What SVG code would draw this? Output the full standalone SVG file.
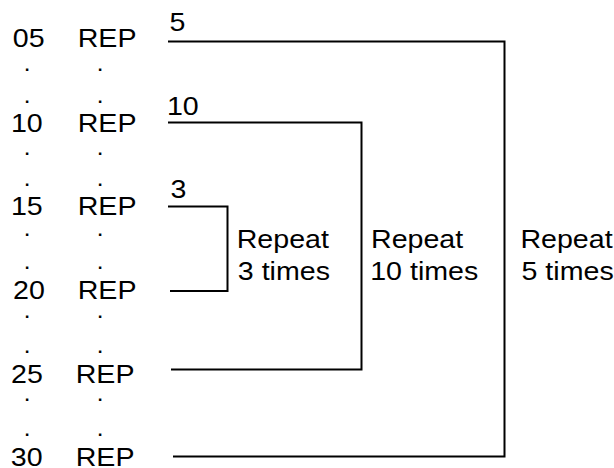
<svg xmlns="http://www.w3.org/2000/svg" width="614" height="468" viewBox="0 0 614 468">
<style>
text{font-family:"Liberation Sans",Arial,sans-serif;font-size:26px;fill:#000}
.d{text-anchor:middle;font-size:17px;font-weight:bold}
.c{fill:none;stroke:#000;stroke-width:2}
</style>
<rect width="614" height="468" fill="#fff"/>
<g id="numbers">
<text x="12.8" y="47.3" textLength="31.8" lengthAdjust="spacingAndGlyphs">05</text>
<text x="10.9" y="131.7" textLength="31.8" lengthAdjust="spacingAndGlyphs">10</text>
<text x="10.9" y="215" textLength="31.8" lengthAdjust="spacingAndGlyphs">15</text>
<text x="13.1" y="299.3" textLength="31.8" lengthAdjust="spacingAndGlyphs">20</text>
<text x="11.1" y="383" textLength="31.8" lengthAdjust="spacingAndGlyphs">25</text>
<text x="10.8" y="465.5" textLength="31.8" lengthAdjust="spacingAndGlyphs">30</text>
</g>
<g id="reps">
<text x="77.7" y="47.3" textLength="58.8" lengthAdjust="spacingAndGlyphs">REP</text>
<text x="77.7" y="131.7" textLength="58.8" lengthAdjust="spacingAndGlyphs">REP</text>
<text x="77.7" y="215" textLength="58.8" lengthAdjust="spacingAndGlyphs">REP</text>
<text x="77.7" y="299.3" textLength="58.8" lengthAdjust="spacingAndGlyphs">REP</text>
<text x="75.7" y="383" textLength="58.8" lengthAdjust="spacingAndGlyphs">REP</text>
<text x="75.7" y="465.5" textLength="58.8" lengthAdjust="spacingAndGlyphs">REP</text>
</g>
<g id="dots">
<text class="d" x="27" y="71.2">.</text><text class="d" x="100" y="71.2">.</text>
<text class="d" x="27" y="102.9">.</text><text class="d" x="100" y="102.9">.</text>
<text class="d" x="27" y="154.9">.</text><text class="d" x="100" y="154.9">.</text>
<text class="d" x="27" y="186.2">.</text><text class="d" x="100" y="186.2">.</text>
<text class="d" x="27" y="236.2">.</text><text class="d" x="100" y="236.2">.</text>
<text class="d" x="27" y="269.4">.</text><text class="d" x="100" y="269.4">.</text>
<text class="d" x="27" y="318.4">.</text><text class="d" x="100" y="318.4">.</text>
<text class="d" x="27" y="352.9">.</text><text class="d" x="100" y="352.9">.</text>
<text class="d" x="27" y="401.2">.</text><text class="d" x="100" y="401.2">.</text>
<text class="d" x="27" y="436.2">.</text><text class="d" x="100" y="436.2">.</text>
</g>
<g id="connectors">
<path class="c" d="M168,41.5H504.5V456.5H173"/>
<path class="c" d="M168,122.5H361.5V369.5H171"/>
<path class="c" d="M168,206.5H227.5V291H170"/>
</g>
<g id="bracket-labels">
<text x="169.5" y="31" textLength="15.9" lengthAdjust="spacingAndGlyphs">5</text>
<text x="166.9" y="115" textLength="31.8" lengthAdjust="spacingAndGlyphs">10</text>
<text x="170.5" y="198.3" textLength="15.9" lengthAdjust="spacingAndGlyphs">3</text>
</g>
<g id="repeat3">
<text x="236.7" y="248.3" textLength="92.2" lengthAdjust="spacingAndGlyphs">Repeat</text>
<text x="237.8" y="280" textLength="92.2" lengthAdjust="spacingAndGlyphs">3 times</text>
</g>
<g id="repeat10">
<text x="371" y="248.3" textLength="92.2" lengthAdjust="spacingAndGlyphs">Repeat</text>
<text x="370.2" y="280" textLength="108.1" lengthAdjust="spacingAndGlyphs">10 times</text>
</g>
<g id="repeat5">
<text x="520.4" y="248.3" textLength="92.2" lengthAdjust="spacingAndGlyphs">Repeat</text>
<text x="521.5" y="280" textLength="92.2" lengthAdjust="spacingAndGlyphs">5 times</text>
</g>
</svg>
